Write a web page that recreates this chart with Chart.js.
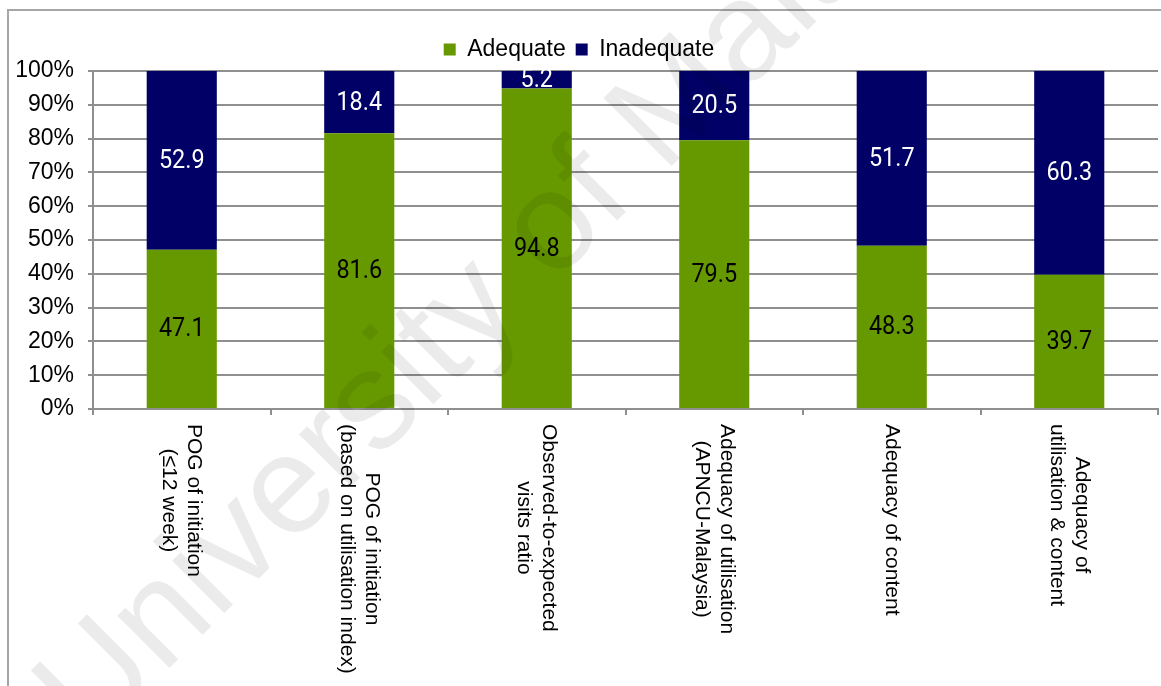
<!DOCTYPE html>
<html>
<head>
<meta charset="utf-8">
<script src="https://cdn.jsdelivr.net/npm/chart.js@4"></script>
<style>
  html, body { margin: 0; padding: 0; background: #fff; }
  #frame { position: absolute; left: 7px; top: 9px; width: 1152px; height: 700px; border: 2px solid #a6a6a6; }
  #wrap { position: absolute; left: 0; top: 0; width: 1161px; height: 686px; }
</style>
</head>
<body>
<div id="frame"></div>
<div id="wrap"><canvas id="chart" width="1161" height="686"></canvas></div>
<script>
const categories = [
  ['POG of initiation', '(≤12 week)'],
  ['POG of initiation', '(based on utilisation index)'],
  ['Observed-to-expected', 'visits ratio'],
  ['Adequacy of utilisation', '(APNCU-Malaysia)'],
  ['Adequacy of content'],
  ['Adequacy of', 'utilisation & content']
];
const adequate = [47.1, 81.6, 94.8, 79.5, 48.3, 39.7];
const inadequate = [52.9, 18.4, 5.2, 20.5, 51.7, 60.3];
const yTicks = [0, 10, 20, 30, 40, 50, 60, 70, 80, 90, 100];

const GREEN = '#669900';
const NAVY = '#000066';
const GRID = '#8f8f8f';

// value labels in the middle of each stacked segment
const segmentLabels = {
  id: 'segmentLabels',
  afterDatasetsDraw(chart) {
    const { ctx } = chart;
    ctx.save();
    ctx.font = '26px Roboto, "Liberation Sans", sans-serif';
    ctx.textAlign = 'center';
    ctx.textBaseline = 'middle';
    chart.data.datasets.forEach((ds, i) => {
      const meta = chart.getDatasetMeta(i);
      ctx.fillStyle = i === 0 ? '#000' : '#fff';
      meta.data.forEach((bar, j) => {
        const y = (bar.y + bar.base) / 2;
        ctx.save();
        ctx.translate(bar.x, y + 1);
        ctx.scale(0.9, 1); // the original digits are a bit condensed
        ctx.fillText(ds.data[j].toFixed(1), 0, 0);
        ctx.restore();
      });
    });
    ctx.restore();
  }
};

// x labels read top-to-bottom, like the original
const verticalLabels = {
  id: 'verticalLabels',
  afterDraw(chart) {
    const { ctx } = chart;
    const xScale = chart.scales.x;
    const top = chart.chartArea.bottom + 15;
    const lineH = 25;
    ctx.save();
    ctx.font = '21px "Liberation Sans", Arial, sans-serif';
    ctx.fillStyle = '#000';
    ctx.textAlign = 'center';
    ctx.textBaseline = 'middle';
    categories.forEach((lines, i) => {
      const cx = xScale.getPixelForValue(i);
      const maxW = Math.max(...lines.map(l => ctx.measureText(l).width));
      ctx.save();
      ctx.translate(cx, top + maxW / 2);
      ctx.rotate(Math.PI / 2);
      lines.forEach((l, k) => {
        ctx.fillText(l, 0, (k - (lines.length - 1) / 2) * lineH);
      });
      ctx.restore();
    });
    ctx.restore();
  }
};

// faint diagonal watermark over the whole picture
const watermark = {
  id: 'watermark',
  afterDraw(chart) {
    const { ctx } = chart;
    ctx.save();
    ctx.translate(64, 719);
    ctx.rotate(-Math.PI / 4);
    ctx.font = '140px "Liberation Sans", Arial, sans-serif';
    ctx.fillStyle = 'rgba(0,0,0,0.08)';
    ctx.textAlign = 'left';
    ctx.textBaseline = 'middle';
    ctx.fillText('University of Malaya', 0, 0);
    ctx.restore();
  }
};

new Chart(document.getElementById('chart'), {
  type: 'bar',
  data: {
    labels: categories,
    datasets: [
      { label: 'Adequate', data: adequate, backgroundColor: GREEN },
      { label: 'Inadequate', data: inadequate, backgroundColor: NAVY }
    ]
  },
  options: {
    responsive: false,
    animation: false,
    events: [],
    barPercentage: 0.395,
    categoryPercentage: 1,
    layout: { padding: { top: 28, right: 3, left: 0, bottom: 0 } },
    plugins: {
      legend: {
        position: 'top',
        labels: {
          boxWidth: 12,
          boxHeight: 12,
          padding: 10,
          color: '#000',
          font: { family: '"Liberation Sans", Arial, sans-serif', size: 23 }
        }
      },
      tooltip: { enabled: false }
    },
    scales: {
      x: {
        stacked: true,
        afterFit: (s) => { s.height = 277; },
        ticks: { display: false },
        grid: { drawOnChartArea: false, color: GRID, lineWidth: 2, tickLength: 6 },
        border: { color: GRID, width: 2 }
      },
      y: {
        stacked: true,
        min: 0,
        max: 100,
        afterFit: (s) => { s.width = 93; },
        afterBuildTicks: (s) => { s.ticks = yTicks.map(v => ({ value: v })); },
        ticks: {
          color: '#000',
          padding: 14,
          font: { family: '"Liberation Sans", Arial, sans-serif', size: 23 },
          callback: (v) => v + '%'
        },
        grid: { color: GRID, lineWidth: 2, tickLength: 5 },
        border: { color: GRID, width: 2 }
      }
    }
  },
  plugins: [segmentLabels, verticalLabels, watermark]
});
</script>
</body>
</html>
